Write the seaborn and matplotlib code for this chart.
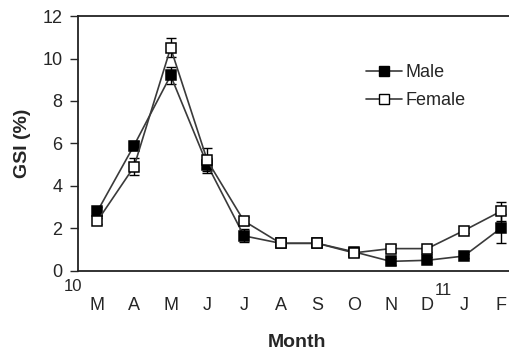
import matplotlib
matplotlib.use("Agg")
import matplotlib.pyplot as plt
import seaborn as sns
import pandas as pd
import numpy as np
from matplotlib.lines import Line2D

months = ["M", "A", "M", "J", "J", "A", "S", "O", "N", "D", "J", "F"]
male = [2.8, 5.9, 9.2, 5.0, 1.65, 1.3, 1.3, 0.9, 0.45, 0.5, 0.7, 2.0]
male_err = [0.2, 0.2, 0.4, 0.3, 0.3, 0.1, 0.1, 0.1, 0.15, 0.15, 0.1, 0.7]
female = [2.35, 4.9, 10.5, 5.2, 2.35, 1.3, 1.3, 0.85, 1.05, 1.05, 1.9, 2.8]
female_err = [0.15, 0.4, 0.45, 0.6, 0.2, 0.1, 0.1, 0.1, 0.15, 0.15, 0.1, 0.45]
year_labels = ["10", "11"]

sns.set_style("white")
plt.rcParams["font.family"] = ["Liberation Sans", "DejaVu Sans"]

fig = plt.figure(figsize=(5.09, 3.56), dpi=100)
ax = fig.add_axes([0.153, 0.239, 0.86, 0.716])

pos = np.arange(len(months))
df = pd.DataFrame({
    "pos": np.concatenate([pos, pos]),
    "gsi": male + female,
    "err": male_err + female_err,
    "sex": ["Male"] * len(pos) + ["Female"] * len(pos),
})

line_col = "#3a3a3a"
for sex, face, z in [("Male", "black", 3), ("Female", "white", 5)]:
    sub = df[df.sex == sex]
    ax.errorbar(sub.pos, sub.gsi, yerr=sub.err, fmt="none", ecolor="black",
                elinewidth=1, capsize=3.5, capthick=1, zorder=z - 1)
    sns.lineplot(data=sub, x="pos", y="gsi", ax=ax, color=line_col, lw=1.2,
                 marker="s", markersize=7.5, markerfacecolor=face,
                 markeredgecolor="black", markeredgewidth=1.1, label=sex,
                 zorder=z, legend=False)

ax.set_xlim(-0.53, 11.41)
ax.set_ylim(0, 12)
ax.set_yticks([0, 2, 4, 6, 8, 10, 12])
ax.set_xticks(pos)
ax.set_xticklabels(months, fontsize=13)
ax.tick_params(axis="y", labelsize=13, length=6, width=1, direction="out", left=True, pad=5)
ax.tick_params(axis="x", length=0, pad=19)
for s in ["top", "bottom", "left"]:
    ax.spines[s].set_color("#222222")
    ax.spines[s].set_linewidth(1.3)
ax.spines["right"].set_visible(False)

ax.set_xlabel("Month", fontsize=14, fontweight="bold", labelpad=14)
ax.set_ylabel("GSI (%)", fontsize=14, fontweight="bold", labelpad=8)

ax.text(-0.66, -0.72, year_labels[0], fontsize=12, ha="center", va="center")
ax.text(9.45, -0.9, year_labels[1], fontsize=12, ha="center", va="center")

handles = [
    Line2D([], [], color=line_col, lw=1.2, marker="s", markersize=7.5,
           markerfacecolor="black", markeredgecolor="black"),
    Line2D([], [], color=line_col, lw=1.2, marker="s", markersize=7.5,
           markerfacecolor="white", markeredgecolor="black"),
]
ax.legend(handles, ["Male", "Female"], loc="upper left", bbox_to_anchor=(0.62, 0.875),
          frameon=False, fontsize=13, handlelength=2.0, handletextpad=0.2,
          labelspacing=0.62)

fig.savefig("out.png", dpi=100)
